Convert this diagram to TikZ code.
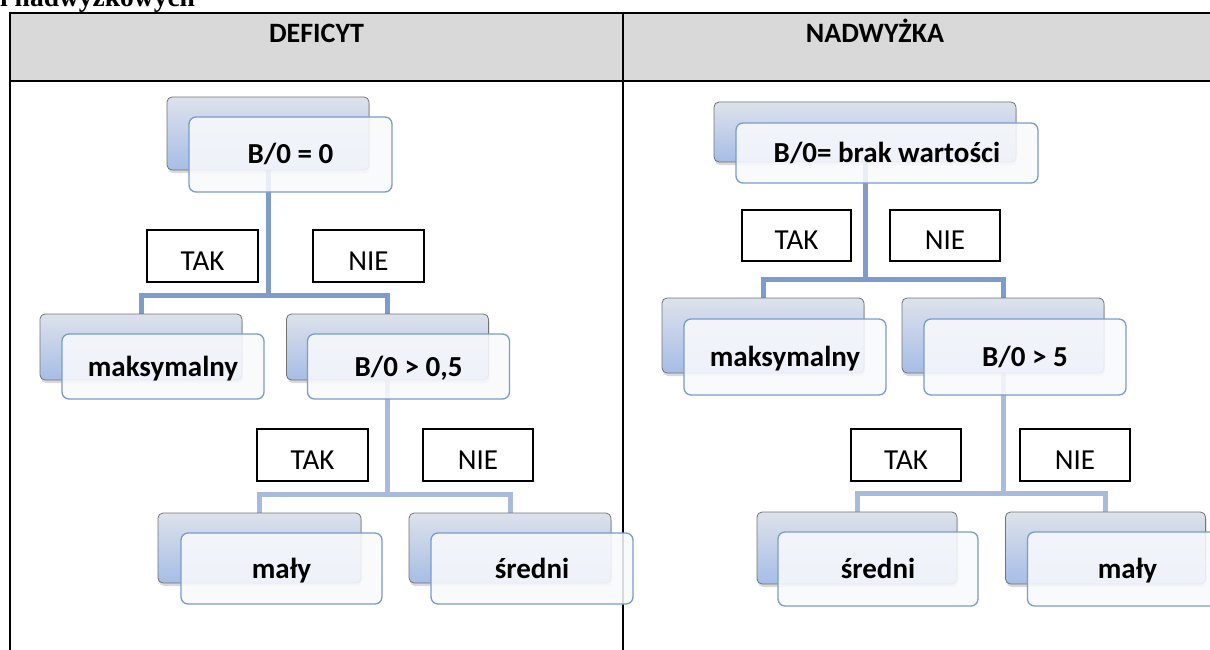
\documentclass[tikz,border=0pt]{standalone}
\usepackage{fontspec}
\setmainfont{Carlito}
\newfontfamily\szeryf{Liberation Serif}
\usepackage{tikz}
\usetikzlibrary{positioning}
\usetikzlibrary{shadows}
\usetikzlibrary{backgrounds}

\definecolor{szary}{HTML}{D9D9D9}
\definecolor{niebieski}{HTML}{7D9BCD}
\definecolor{jasnoniebieski}{HTML}{A9BBDD}
\definecolor{obrys}{HTML}{7A9BCF}
\definecolor{gora}{HTML}{DDE2EB}
\definecolor{dol}{HTML}{A6BDE6}
\definecolor{karton}{HTML}{F8F9FC}

\begin{document}
\begin{tikzpicture}[
    x=1pt, y=-1pt,
    tlo/.style={rectangle, rounded corners=5pt, draw=gray!90!black, line width=0.8pt,
        top color=gora, bottom color=dol,
        drop shadow={shadow xshift=1pt, shadow yshift=-3pt, opacity=0.3},
        minimum width=202pt, minimum height=70pt, inner sep=0pt},
    karta/.style={rectangle, rounded corners=7pt, draw=obrys, line width=1.3pt,
        fill=karton, fill opacity=0.88, text opacity=1,
        font=\fontsize{29}{34}\selectfont\bfseries, text height=19pt, text depth=0pt,
        minimum width=202pt, minimum height=72pt, inner sep=0pt},
    etykieta/.style={rectangle, draw=black, line width=1.2pt, fill=white,
        font=\fontsize{29}{34}\selectfont, text height=28pt, text depth=0pt,
        minimum width=110pt, minimum height=52pt, inner sep=0pt},
    naglowek/.style={font=\fontsize{28}{32}\selectfont\bfseries, inner sep=0pt},
    linia/.style={line width=2pt, black},
    krawedz/.style={line width=5pt, draw=niebieski},
    krawedz2/.style={line width=5pt, draw=jasnoniebieski}
]
\useasboundingbox (0,0) rectangle (1210,650);

% Tabela
\fill[szary] (10,13) rectangle (1215,81);
\draw[linia] (9,13) -- (1215,13);
\draw[linia] (9,81) -- (1215,81);
\draw[linia] (10,12) -- (10,655);
\draw[linia] (623,12) -- (623,655);

\node[anchor=base west, inner sep=0pt, font=\szeryf\bfseries\fontsize{27.5}{30}\selectfont] (tytul) at (0,7) {i nadwyżkowych};
\node[naglowek, anchor=base] (hDef) at (316.5,43) {DEFICYT};
\node[naglowek, anchor=base] (hNad) at (875,43) {NADWYŻKA};

% Deficyt
\node[tlo, minimum height=73pt] (t1) at (268,133.5) {};
\node[karta, minimum width=203pt, minimum height=75pt] (k1) at (290.5,154.5) {B/0 = 0};

\node[etykieta, minimum width=111pt] (tak1) at (202.5,256) {TAK};
\node[etykieta, minimum width=111pt] (nie1) at (368.5,256) {NIE};

\node[tlo, minimum height=66pt] (tm1) at (141,347) {};
\node[karta, minimum height=65pt] (km1) at (163,366.5) {maksymalny};
\node[tlo, minimum height=66pt] (tb1) at (387.5,347) {};
\node[karta, minimum height=65pt] (kb1) at (408.5,366.5) {B/0 > 0,5};

\node[etykieta, minimum width=111pt] (tak2) at (312.5,455) {TAK};
\node[etykieta] (nie2) at (478,455) {NIE};

\node[tlo, minimum width=203pt] (tl1) at (259.5,548) {};
\node[karta, minimum width=201pt, minimum height=71pt] (kl1) at (281.5,568.5) {mały};
\node[tlo] (ts1) at (510,548) {};
\node[karta, minimum height=71pt] (ks1) at (532,568.5) {średni};

% Nadwyzka
\node[tlo, minimum width=302pt, minimum height=60pt] (t2) at (865,132) {};
\node[karta, minimum width=302pt, minimum height=60pt] (k2) at (887,153) {B/0= brak wartości};

\node[etykieta, minimum width=109pt, minimum height=51pt] (tak3) at (796.5,235.5) {TAK};
\node[etykieta, minimum height=51pt] (nie3) at (945,235.5) {NIE};

\node[tlo, minimum height=75pt] (tm2) at (763,335.5) {};
\node[karta, minimum height=76pt] (km2) at (785,357) {maksymalny};
\node[tlo, minimum height=75pt] (tb2) at (1003,335.5) {};
\node[karta, minimum height=76pt] (kb2) at (1025,357) {B/0 > 5};

\node[etykieta] (tak4) at (906,455) {TAK};
\node[etykieta] (nie4) at (1075,455) {NIE};

\node[tlo, minimum width=200pt, minimum height=72pt] (ts2) at (857,548) {};
\node[karta, minimum width=200pt, minimum height=74pt] (ks2) at (878,569) {średni};
\node[tlo, minimum width=200pt, minimum height=72pt] (tl2) at (1105.5,548) {};
\node[karta, minimum width=200pt, minimum height=74pt] (kl2) at (1127.5,569) {mały};

% Polaczenia
\coordinate (j1) at (268,295);
\coordinate (j2) at (387.5,494);
\coordinate (j3) at (865,279);
\coordinate (j4) at (1003,493);
\begin{pgfonlayer}{background}
\draw[krawedz] (t1.center) -- (j1) -| (tm1.center);
\draw[krawedz] (j1) -| (tb1.center);
\draw[krawedz2] (tb1.center) -- (j2) -| (tl1.center);
\draw[krawedz2] (j2) -| (ts1.center);
\draw[krawedz] (t2.center) -- (j3) -| (tm2.center);
\draw[krawedz] (j3) -| (tb2.center);
\draw[krawedz2] (tb2.center) -- (j4) -| (ts2.center);
\draw[krawedz2] (j4) -| (tl2.center);
\end{pgfonlayer}

\end{tikzpicture}
\end{document}
